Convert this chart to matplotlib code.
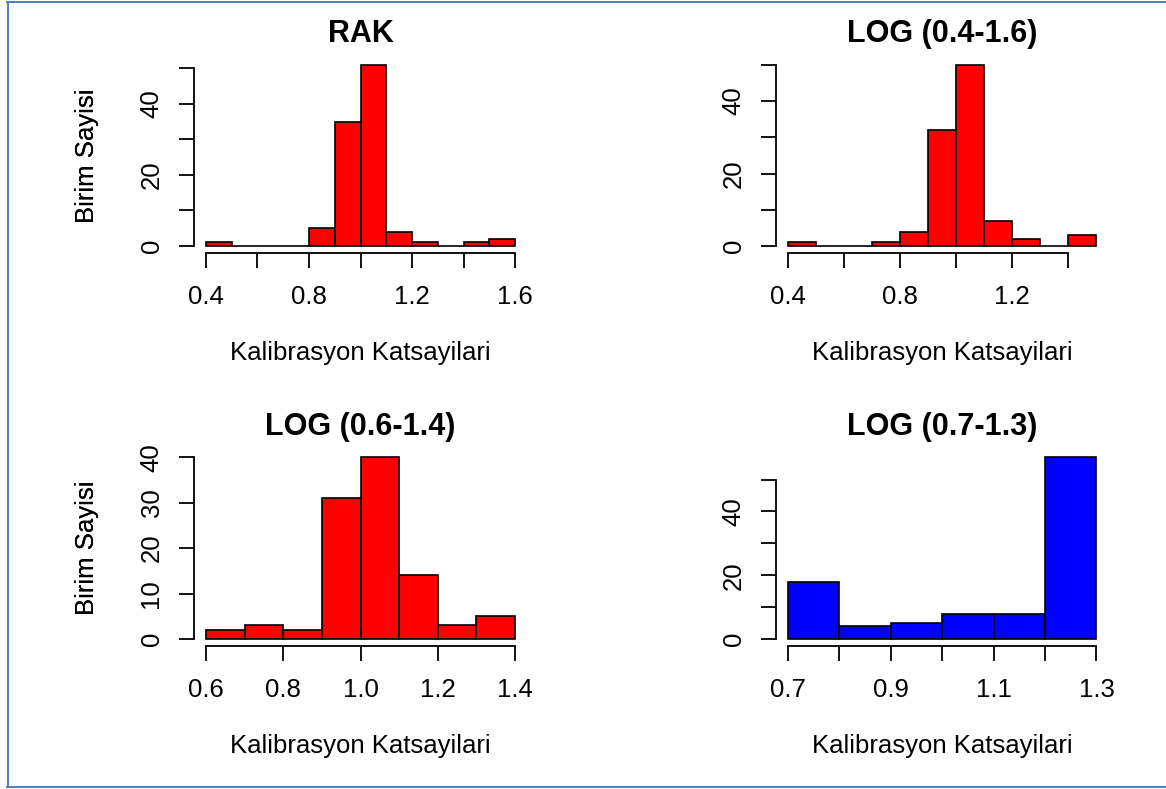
import numpy as np
import matplotlib
matplotlib.use("Agg")
import matplotlib.pyplot as plt
from matplotlib.lines import Line2D

plt.rcParams['font.family'] = ['Liberation Sans', 'DejaVu Sans']

# ---- data ----
titles = ["RAK", "LOG (0.4-1.6)", "LOG (0.6-1.4)", "LOG (0.7-1.3)"]

rak_lefts = [0.4, 0.5, 0.6, 0.7, 0.8, 0.9, 1.0, 1.1, 1.2, 1.3, 1.4, 1.5]
rak_counts = [1, 0, 0, 0, 5, 35, 51, 4, 1, 0, 1, 2]

log46_lefts = [0.4, 0.5, 0.6, 0.7, 0.8, 0.9, 1.0, 1.1, 1.2, 1.3, 1.4]
log46_counts = [1, 0, 0, 1, 4, 32, 50, 7, 2, 0, 3]

log64_lefts = [0.6, 0.7, 0.8, 0.9, 1.0, 1.1, 1.2, 1.3]
log64_counts = [2, 3, 2, 31, 40, 14, 3, 5]

log73_lefts = [0.7, 0.8, 0.9, 1.0, 1.1, 1.2]
log73_counts = [18, 4, 5, 8, 8, 57]

bin_width = 0.1

rak_xticks = [0.4, 0.6, 0.8, 1.0, 1.2, 1.4, 1.6]
rak_xlabels = ["0.4", "", "0.8", "", "1.2", "", "1.6"]
log46_xticks = [0.4, 0.6, 0.8, 1.0, 1.2, 1.4]
log46_xlabels = ["0.4", "", "0.8", "", "1.2", ""]
log64_xticks = [0.6, 0.8, 1.0, 1.2, 1.4]
log64_xlabels = ["0.6", "0.8", "1.0", "1.2", "1.4"]
log73_xticks = [0.7, 0.8, 0.9, 1.0, 1.1, 1.2, 1.3]
log73_xlabels = ["0.7", "", "0.9", "", "1.1", "", "1.3"]

yticks_50 = [0, 10, 20, 30, 40, 50]
ylabels_50 = ["0", "", "20", "", "40", ""]
yticks_40 = [0, 10, 20, 30, 40]
ylabels_40 = ["0", "10", "20", "30", "40"]

colors = ["#FF0000", "#FF0000", "#FF0000", "#0000FF"]
xlab = "Kalibrasyon Katsayilari"
ylab = "Birim Sayisi"

# ---- figure ----
W, H = 1166, 789
fig = plt.figure(figsize=(W / 100, H / 100), dpi=100)


def px_axes(x0, x1, y0, y1):
    return fig.add_axes([x0 / W, 1 - y1 / H, (x1 - x0) / W, (y1 - y0) / H])


boxes = [(193.5, 527.5, 57.5, 253.3), (775.7, 1108.8, 57.5, 253.3),
         (193.5, 527.5, 450.0, 646.3), (775.7, 1108.8, 450.0, 646.3)]
panels = [
    (rak_lefts, rak_counts, rak_xticks, rak_xlabels, yticks_50, ylabels_50),
    (log46_lefts, log46_counts, log46_xticks, log46_xlabels, yticks_50, ylabels_50),
    (log64_lefts, log64_counts, log64_xticks, log64_xlabels, yticks_40, ylabels_40),
    (log73_lefts, log73_counts, log73_xticks, log73_xlabels, yticks_50, ylabels_50),
]

PX = 0.72  # points per pixel at 100 dpi

for i, (box, (lefts, counts, xt, xl, yt, yl)) in enumerate(zip(boxes, panels)):
    ax = px_axes(*box)
    ax.bar(lefts, counts, width=bin_width, align='edge', color=colors[i],
           edgecolor='black', linewidth=1.2)
    xlo, xhi = lefts[0], lefts[-1] + bin_width
    ext = 0.04 * (xhi - xlo)
    ax.set_xlim(xlo - ext, xhi + ext)
    ymax = max(counts)
    ax.set_ylim(-0.04 * ymax, 1.04 * ymax)

    for s in ['top', 'right']:
        ax.spines[s].set_visible(False)
    ax.spines['left'].set_bounds(yt[0], yt[-1])
    ax.spines['bottom'].set_bounds(xt[0], xt[-1])
    for s in ['left', 'bottom']:
        ax.spines[s].set_linewidth(1.3)

    ax.set_xticks(xt)
    ax.set_xticklabels(xl)
    ax.set_yticks(yt)
    ax.set_yticklabels(yl, rotation=90, va='center')
    ax.tick_params(axis='both', direction='out', length=15 * PX, width=1.3,
                   labelsize=18.5, colors='black')
    ax.tick_params(axis='x', pad=16.5 * PX)
    ax.tick_params(axis='y', pad=15 * PX)

    x0, x1, y0, y1 = box
    ax.set_title(titles[i], fontsize=22, fontweight='bold', pad=15.5 * PX)

    ax.set_xlabel(xlab, fontsize=18.5)
    ax.xaxis.set_label_coords(0.5, -(106.5) / (y1 - y0))
    ax.xaxis.label.set_va('baseline')

    ax.set_ylabel(ylab, fontsize=18.5)
    ax.yaxis.set_label_coords(-(x0 - 87) / (x1 - x0), 0.5)
    ax.yaxis.label.set_va('center')

# frame lines (blue border of the screenshot)
bc = '#4F81BD'
fig.add_artist(Line2D([8 / W, 8 / W], [1 - 1.5 / H, 1 - 787 / H],
                      transform=fig.transFigure, color=bc, lw=2 * PX))
fig.add_artist(Line2D([7 / W, 1.0], [1 - 1.5 / H, 1 - 1.5 / H],
                      transform=fig.transFigure, color=bc, lw=2 * PX))
fig.add_artist(Line2D([7 / W, 1.0], [1 - 786.8 / H, 1 - 786.8 / H],
                      transform=fig.transFigure, color=bc, lw=2 * PX))

fig.savefig("out.png", dpi=100)
